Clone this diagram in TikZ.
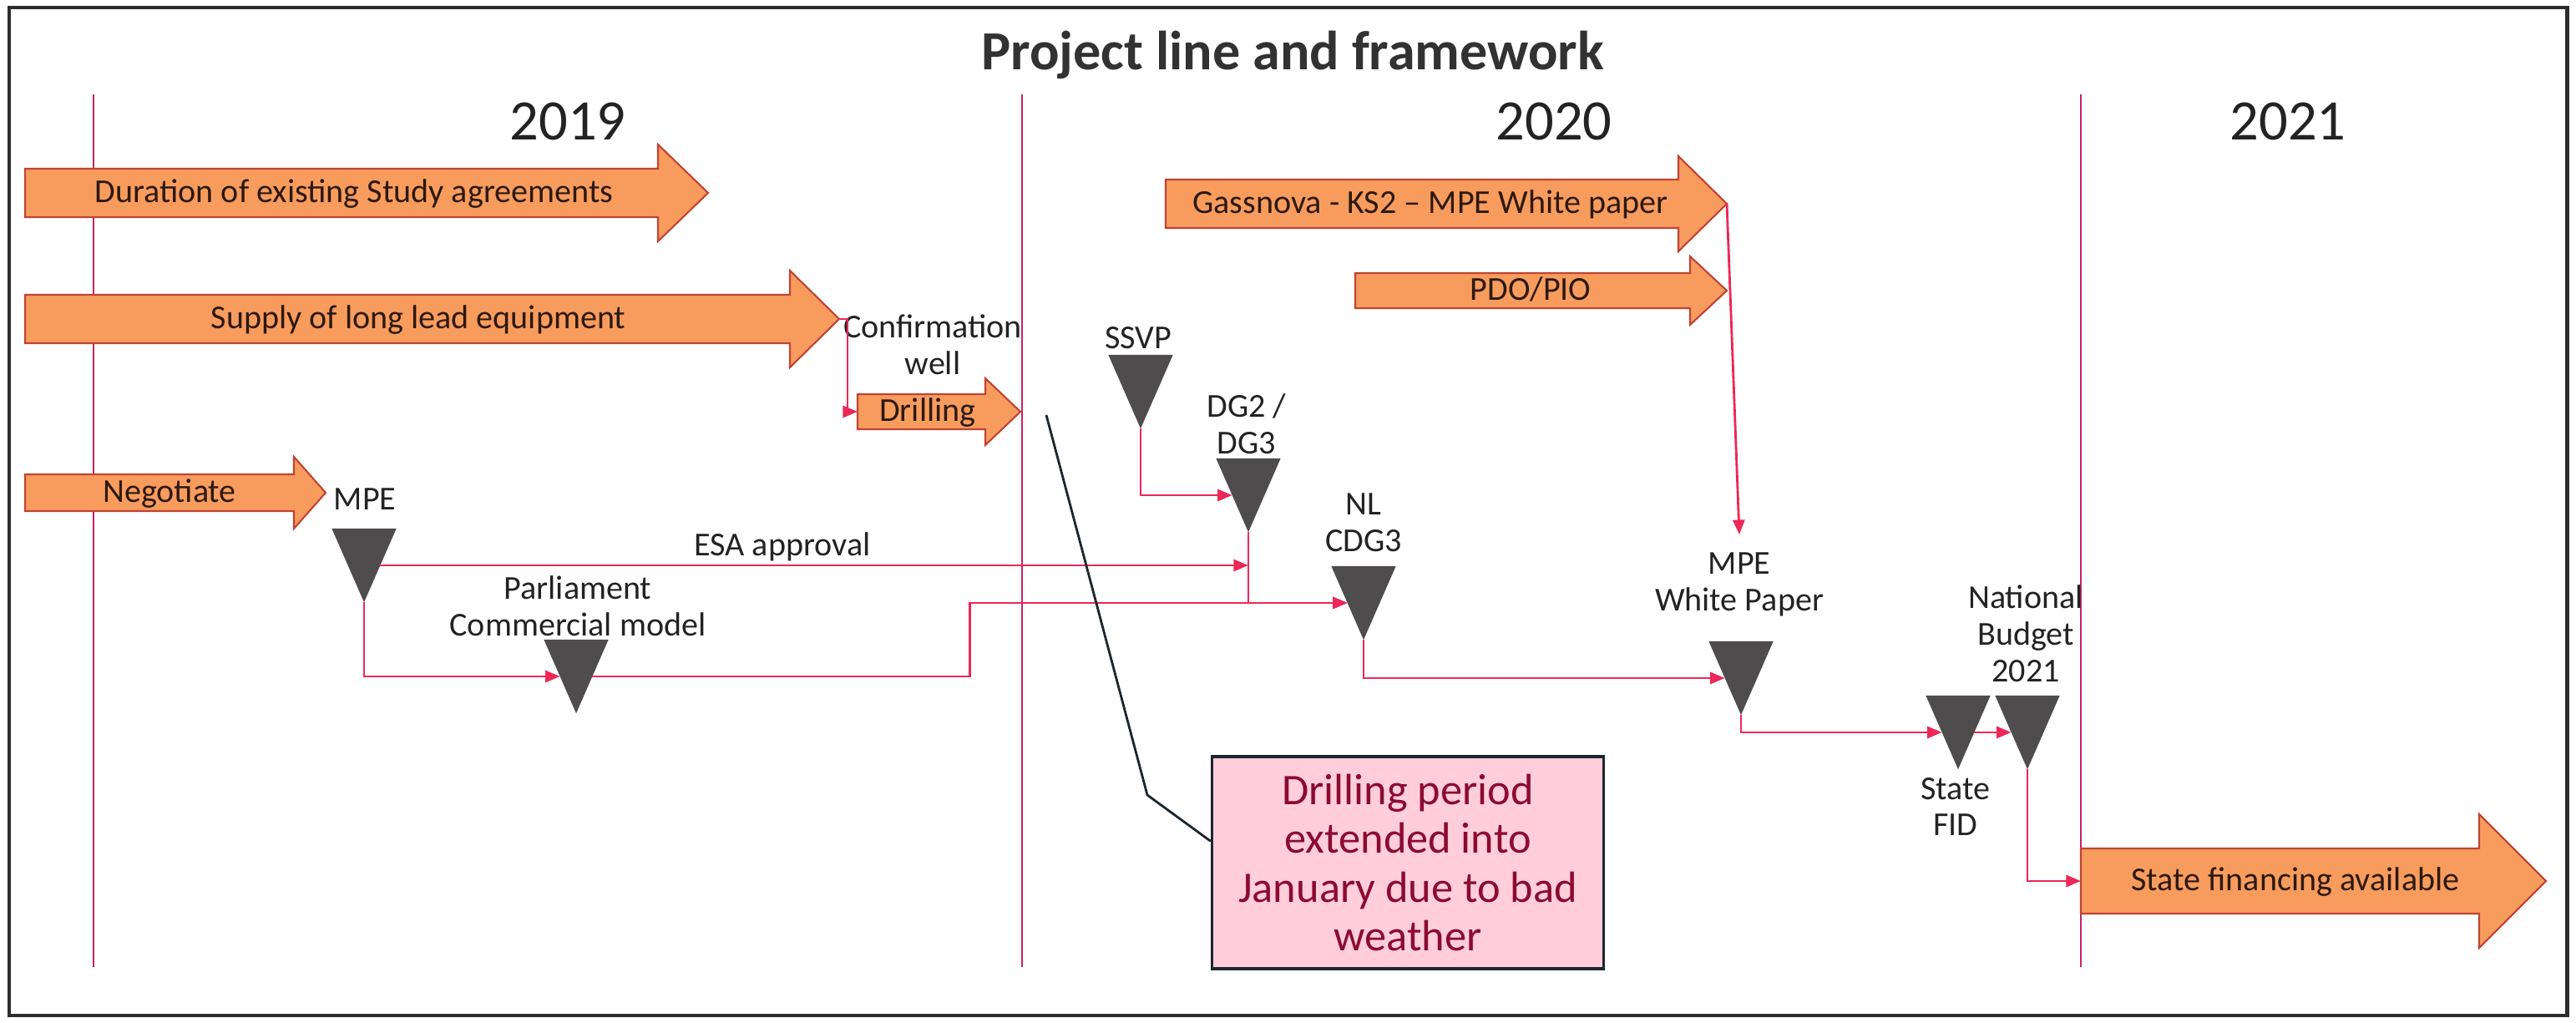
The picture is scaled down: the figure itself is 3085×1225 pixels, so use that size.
\documentclass[tikz,border=0pt]{standalone}
\usepackage{fontspec}
\setmainfont{Carlito}
\usetikzlibrary{%
  arrows.meta,%
  calc%
}
\definecolor{framecol}{RGB}{45,45,45}
\definecolor{titcol}{RGB}{50,50,50}
\definecolor{lbltxt}{RGB}{35,35,35}
\definecolor{bartxt}{RGB}{45,25,15}
\definecolor{barfill}{RGB}{248,156,94}
\definecolor{baredge}{RGB}{192,68,52}
\definecolor{yrcol}{RGB}{196,36,100}
\definecolor{linkcol}{RGB}{236,40,88}
\definecolor{mscol}{RGB}{78,76,76}
\definecolor{notefill}{RGB}{255,206,218}
\definecolor{noteedge}{RGB}{28,38,48}
\definecolor{notetxt}{RGB}{140,10,50}
\begin{document}
\begin{tikzpicture}[
  x=0.01cm,
  y=-0.01cm,
  font=\fontsize{11.4}{12.5}\selectfont,
  >={Triangle[length=5pt,width=4pt]},
  bar/.style={fill=barfill,draw=baredge,line width=0.6pt},
  bartext/.style={text=bartxt,inner sep=0pt,text height=0.64em,text depth=0pt},
  lbl/.style={text=lbltxt,align=center,inner sep=0pt},
  yrtext/.style={text=lbltxt,inner sep=0pt,font=\fontsize{19.5}{22}\selectfont},
  yrline/.style={draw=yrcol,line width=0.7pt},
  ms/.style={inner sep=0pt,minimum width=0.76cm,minimum height=0.87cm},
  link/.style={->,draw=linkcol,line width=0.8pt},
  note/.style={draw=noteedge,fill=notefill,line width=0.9pt,text=notetxt,
    align=center,minimum width=4.69cm,minimum height=2.54cm,
    font=\fontsize{14.9}{16.5}\selectfont},
  callout/.style={draw=noteedge,line width=0.8pt},
]

\useasboundingbox (0,0) rectangle (3085,1225);
\draw[framecol,line width=1.4pt] (11,9) rectangle (3074,1216);

\node[font=\bfseries\fontsize{18.8}{22}\selectfont,text=titcol,anchor=base] (title) at (1548,84) {Project line and framework};

\foreach \x in {112,1224,2492} {
  \draw[yrline] (\x,113) -- (\x,1158);
}
\node[yrtext] (y2019) at (680,145) {2019};
\node[yrtext] (y2020) at (1861,145) {2020};
\node[yrtext] (y2021) at (2740,145) {2021};

\draw[bar] (30,202) -- (788,202) -- (788,173) -- (848,231) -- (788,289) -- (788,260) -- (30,260) -- cycle;
\node[bartext] (dur) at (424,231) {Duration of existing Study agreements};
\draw[bar] (30,353) -- (946,353) -- (946,324) -- (1005,382) -- (946,440) -- (946,411) -- (30,411) -- cycle;
\node[bartext] (sup) at (501,382) {Supply of long lead equipment};
\coordinate (suptip) at (1005,382);
\draw[bar] (30,568) -- (352,568) -- (352,547) -- (390,590) -- (352,633) -- (352,612) -- (30,612) -- cycle;
\node[bartext] (neg) at (203,590) {Negotiate};
\draw[bar] (1396,215) -- (2010,215) -- (2010,187) -- (2068,244) -- (2010,301) -- (2010,273) -- (1396,273) -- cycle;
\node[bartext] (gas) at (1713,244) {Gassnova - KS2 -- MPE White paper};
\coordinate (gastip) at (2068,244);
\draw[bar] (1623,327) -- (2024,327) -- (2024,307) -- (2068,348) -- (2024,389) -- (2024,369) -- (1623,369) -- cycle;
\node[bartext] (pdo) at (1833,348) {PDO/PIO};
\draw[bar] (1027,472) -- (1180,472) -- (1180,453) -- (1222,493) -- (1180,533) -- (1180,514) -- (1027,514) -- cycle;
\node[bartext] (dri) at (1111,493) {Drilling};
\coordinate (driW) at (1027,493);
\draw[bar] (2492,1016) -- (2969,1016) -- (2969,975) -- (3049,1055) -- (2969,1135) -- (2969,1094) -- (2492,1094) -- cycle;
\node[bartext] (fin) at (2749,1055) {State financing available};
\coordinate (finW) at (2492,1055);

\node[lbl] (confL) at (1117,413) {Confirmation\\well};
\node[lbl] (ssvpL) at (1363,405) {SSVP};
\node[lbl] (dgL) at (1493,508) {DG2 /\\DG3};
\node[lbl] (mpeL) at (437,598) {MPE};
\node[lbl] (esaL) at (937,655) {ESA approval};
\node[lbl] (parlL) at (692,726) {Parliament\\Commercial model};
\node[lbl] (nlL) at (1633,626) {NL\\CDG3};
\node[lbl] (mpewL) at (2083,700) {MPE\\White Paper};
\node[lbl] (budL) at (2426,759) {National\\Budget\\2021};
\node[lbl] (fidL) at (2342,966) {State\\FID};

\node[ms] (mpeT) at (436,677) {};
\node[ms] (parlT) at (690,810) {};
\node[ms] (ssvpT) at (1366,469) {};
\node[ms] (dgT) at (1495,593) {};
\node[ms] (nlT) at (1633,722) {};
\node[ms] (mpewT) at (2085,812) {};
\node[ms] (fidT) at (2345,877) {};
\node[ms] (budT) at (2428,877) {};
\foreach \m in {mpeT,parlT,ssvpT,dgT,nlT,mpewT,fidT,budT} {
  \fill[mscol] (\m.north west) -- (\m.north east) -- (\m.south) -- cycle;
  \coordinate (\m-w) at ($(\m.north west)!.5!(\m.south)$);
  \coordinate (\m-e) at ($(\m.north east)!.5!(\m.south)$);
}

\draw[link] (suptip) -- ++(10,0) |- (driW);
\draw[link] (gastip) -- ([yshift=6pt]mpewL.north);
\draw[link] (mpeT-e) -- (dgT.south |- mpeT-e);
\draw[link] (mpeT.south) |- (parlT-w);
\draw[link] (parlT-e) -| ($(parlT-e)!.5!(nlT-w)$) |- (nlT-w);
\draw[link] (ssvpT.south) |- (dgT-w);
\draw[link] (dgT.south) |- (nlT-w);
\draw[link] (nlT.south) |- (mpewT-w);
\draw[link] (mpewT.south) |- (fidT-w);
\draw[link] (fidT-e) -- (budT-w);
\draw[link] (budT.south) |- (finW);

\node[note] (note) at (1686,1033) {Drilling period\\extended into\\January due to bad\\weather};
\coordinate (callpt) at (1253,497);
\draw[callout] (callpt) -- (1374,952) -- ($(note.north west)!.4!(note.south west)$);

\end{tikzpicture}
\end{document}
